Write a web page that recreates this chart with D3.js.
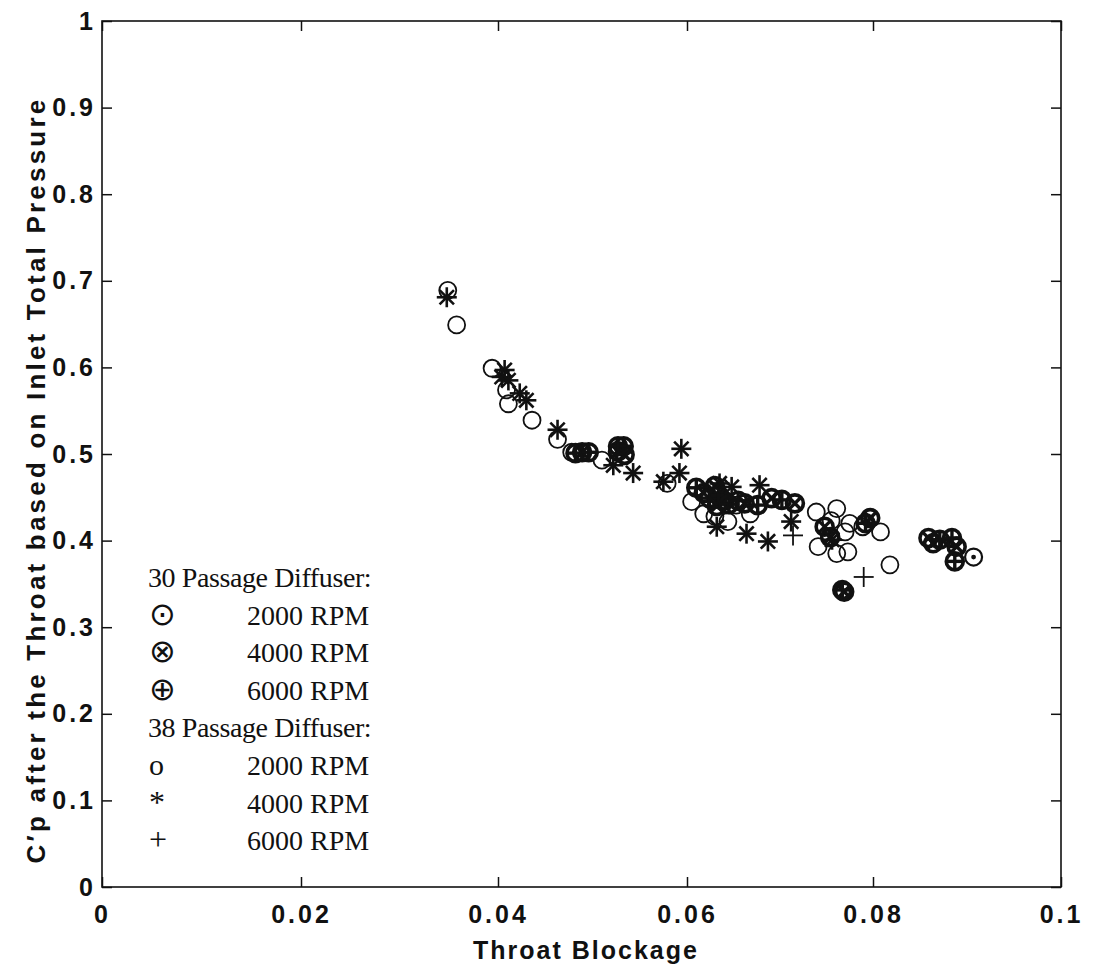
<!DOCTYPE html>
<html>
<head>
<meta charset="utf-8">
<script src="https://cdn.jsdelivr.net/npm/d3@7"></script>
<style>
  body { margin: 0; background: #fff; }
  svg { display: block; }
  .tick text { font-family: "Liberation Sans", Arial, sans-serif; font-weight: bold; font-size: 25px; letter-spacing: 3px; fill: #111; }
  .tick line { stroke: #111; stroke-width: 1.5; }
  .legend text { font-family: "Liberation Serif", "Times New Roman", serif; font-size: 28px; fill: #111; }
</style>
</head>
<body>
<div id="chart"></div>
<script>
// tick values and labels
var xTicks = [0, 0.02, 0.04, 0.06, 0.08, 0.1];
var xTickLabels = ["0", "0.02", "0.04", "0.06", "0.08", "0.1"];
var yTicks = [0, 0.1, 0.2, 0.3, 0.4, 0.5, 0.6, 0.7, 0.8, 0.9, 1];
var yTickLabels = ["0", "0.1", "0.2", "0.3", "0.4", "0.5", "0.6", "0.7", "0.8", "0.9", "1"];

// 30 passage diffuser
var p30_2000 = [[0.0907, 0.381]];
var p30_4000 = [
  [0.0489, 0.502], [0.0527, 0.503], [0.0534, 0.499],
  [0.0618, 0.455], [0.0630, 0.463], [0.0640, 0.446], [0.0632, 0.440],
  [0.0662, 0.443], [0.0691, 0.449], [0.0716, 0.443],
  [0.0748, 0.416], [0.0754, 0.404], [0.0797, 0.426], [0.0769, 0.341],
  [0.0859, 0.403], [0.0864, 0.397], [0.0889, 0.393]
];
var p30_6000 = [
  [0.0482, 0.501], [0.0496, 0.502], [0.0533, 0.509], [0.0527, 0.509],
  [0.0610, 0.461], [0.0624, 0.449], [0.0634, 0.452], [0.0645, 0.442],
  [0.0655, 0.446], [0.0676, 0.441], [0.0702, 0.447],
  [0.0792, 0.420], [0.0767, 0.343],
  [0.0871, 0.401], [0.0884, 0.403], [0.0887, 0.376]
];

// 38 passage diffuser
var p38_2000 = [
  [0.0349, 0.689], [0.0358, 0.649], [0.0394, 0.599], [0.0409, 0.574], [0.0411, 0.558],
  [0.0436, 0.539], [0.0463, 0.517], [0.0478, 0.502], [0.0510, 0.493], [0.0579, 0.466],
  [0.0605, 0.445], [0.0618, 0.431], [0.0630, 0.428], [0.0644, 0.422], [0.0653, 0.441],
  [0.0668, 0.431], [0.0739, 0.433], [0.0761, 0.437], [0.0741, 0.393], [0.0761, 0.385],
  [0.0773, 0.387], [0.0775, 0.420], [0.0755, 0.423], [0.0770, 0.410], [0.0789, 0.416],
  [0.0808, 0.410], [0.0818, 0.372]
];
var p38_4000 = [
  [0.0348, 0.681], [0.0407, 0.597], [0.0404, 0.589], [0.0411, 0.585], [0.0423, 0.570],
  [0.0430, 0.562], [0.0463, 0.528], [0.0522, 0.487], [0.0543, 0.478], [0.0594, 0.506],
  [0.0592, 0.478], [0.0575, 0.468], [0.0632, 0.416], [0.0635, 0.466], [0.0648, 0.462],
  [0.0678, 0.464], [0.0664, 0.408], [0.0687, 0.399], [0.0712, 0.422], [0.0756, 0.401]
];
var p38_6000 = [[0.0714, 0.406], [0.0790, 0.358]];

var legendLines = [
  ["", "30 Passage Diffuser:"],
  ["\u2299", "2000 RPM"],
  ["\u2297", "4000 RPM"],
  ["\u2295", "6000 RPM"],
  ["", "38 Passage Diffuser:"],
  ["o", "2000 RPM"],
  ["*", "4000 RPM"],
  ["+", "6000 RPM"]
];

var W = 1108, H = 967;
var svg = d3.select("#chart").append("svg").attr("width", W).attr("height", H);

var x = d3.scaleLinear().domain(xTicks).range([102, 301, 498, 687, 873, 1061]);
var y = d3.scaleLinear().domain([0, 1]).range([887, 21]);

// axes, ticks pointing inward on every side
svg.append("g").attr("transform", "translate(0,887)")
  .call(d3.axisBottom(x).tickValues(xTicks).tickFormat(function(d, i) { return xTickLabels[i]; })
    .tickSize(-10).tickPadding(18));
svg.append("g").attr("transform", "translate(0,21)")
  .call(d3.axisTop(x).tickValues(xTicks).tickFormat("").tickSize(-10));
svg.append("g").attr("transform", "translate(102,0)")
  .call(d3.axisLeft(y).tickValues(yTicks).tickFormat(function(d, i) { return yTickLabels[i]; })
    .tickSize(-10).tickPadding(6));
svg.append("g").attr("transform", "translate(1061,0)")
  .call(d3.axisRight(y).tickValues(yTicks).tickFormat("").tickSize(-10));
svg.selectAll(".domain").remove();

svg.append("rect")
  .attr("x", x(0)).attr("y", y(1))
  .attr("width", x(0.1) - x(0)).attr("height", y(0) - y(1))
  .attr("fill", "none").attr("stroke", "#111").attr("stroke-width", 1.6);

// axis titles
svg.append("text")
  .attr("x", 586).attr("y", 959)
  .attr("text-anchor", "middle")
  .style("font-family", "'Liberation Sans', Arial, sans-serif")
  .style("font-weight", "bold").style("font-size", "25px").style("letter-spacing", "2px")
  .attr("fill", "#111")
  .text("Throat Blockage");

svg.append("text")
  .attr("transform", "translate(45,480) rotate(-90)")
  .attr("text-anchor", "middle")
  .style("font-family", "'Liberation Sans', Arial, sans-serif")
  .style("font-weight", "bold").style("font-size", "26px").style("letter-spacing", "3.2px")
  .attr("fill", "#111")
  .text("C\u2032p after the Throat based on Inlet Total Pressure");

// markers
var plot = svg.append("g");
var R = 8.5;

function circles(data, sw) {
  return plot.append("g").selectAll("g").data(data).join("g")
    .attr("transform", function(d) { return "translate(" + x(d[0]) + "," + y(d[1]) + ")"; })
    .call(function(g) {
      g.append("circle").attr("r", R).attr("fill", "none").attr("stroke", "#111").attr("stroke-width", sw);
    });
}

function lines(sel, segs, sw) {
  segs.forEach(function(s) {
    sel.append("line").attr("x1", s[0]).attr("y1", s[1]).attr("x2", s[2]).attr("y2", s[3])
      .attr("stroke", "#111").attr("stroke-width", sw);
  });
}

var c = R * 0.72;
var g30a = circles(p30_2000, 2.2);
g30a.append("circle").attr("r", 2.4).attr("fill", "#111");

var g30b = circles(p30_4000, 3.6);
lines(g30b, [[-c, -c, c, c], [-c, c, c, -c]], 3.4);

var g30c = circles(p30_6000, 3.6);
lines(g30c, [[-R, 0, R, 0], [0, -R, 0, R]], 3.4);

circles(p38_2000, 1.8);

var a = 10, ad = 7.2;
plot.append("g").selectAll("g").data(p38_4000).join("g")
  .attr("transform", function(d) { return "translate(" + x(d[0]) + "," + y(d[1]) + ")"; })
  .each(function() {
    lines(d3.select(this), [[-a, 0, a, 0], [0, -a, 0, a], [-ad, -ad, ad, ad], [-ad, ad, ad, -ad]], 2.6);
  });

plot.append("g").selectAll("g").data(p38_6000).join("g")
  .attr("transform", function(d) { return "translate(" + x(d[0]) + "," + y(d[1]) + ")"; })
  .each(function() {
    lines(d3.select(this), [[-10, 0, 10, 0], [0, -10, 0, 10]], 1.8);
  });

// legend written as text
var legend = svg.append("g").attr("class", "legend");
legendLines.forEach(function(row, i) {
  var by = 587 + i * 37.6;
  if (row[0] === "") {
    legend.append("text").attr("x", 148).attr("y", by).style("letter-spacing", "-0.4px").text(row[1]);
  } else {
    legend.append("text").attr("x", 149).attr("y", by).style("font-size", row[0] === "o" ? "30px" : "32px").text(row[0]);
    legend.append("text").attr("x", 247).attr("y", by).text(row[1]);
  }
});
</script>
</body>
</html>
